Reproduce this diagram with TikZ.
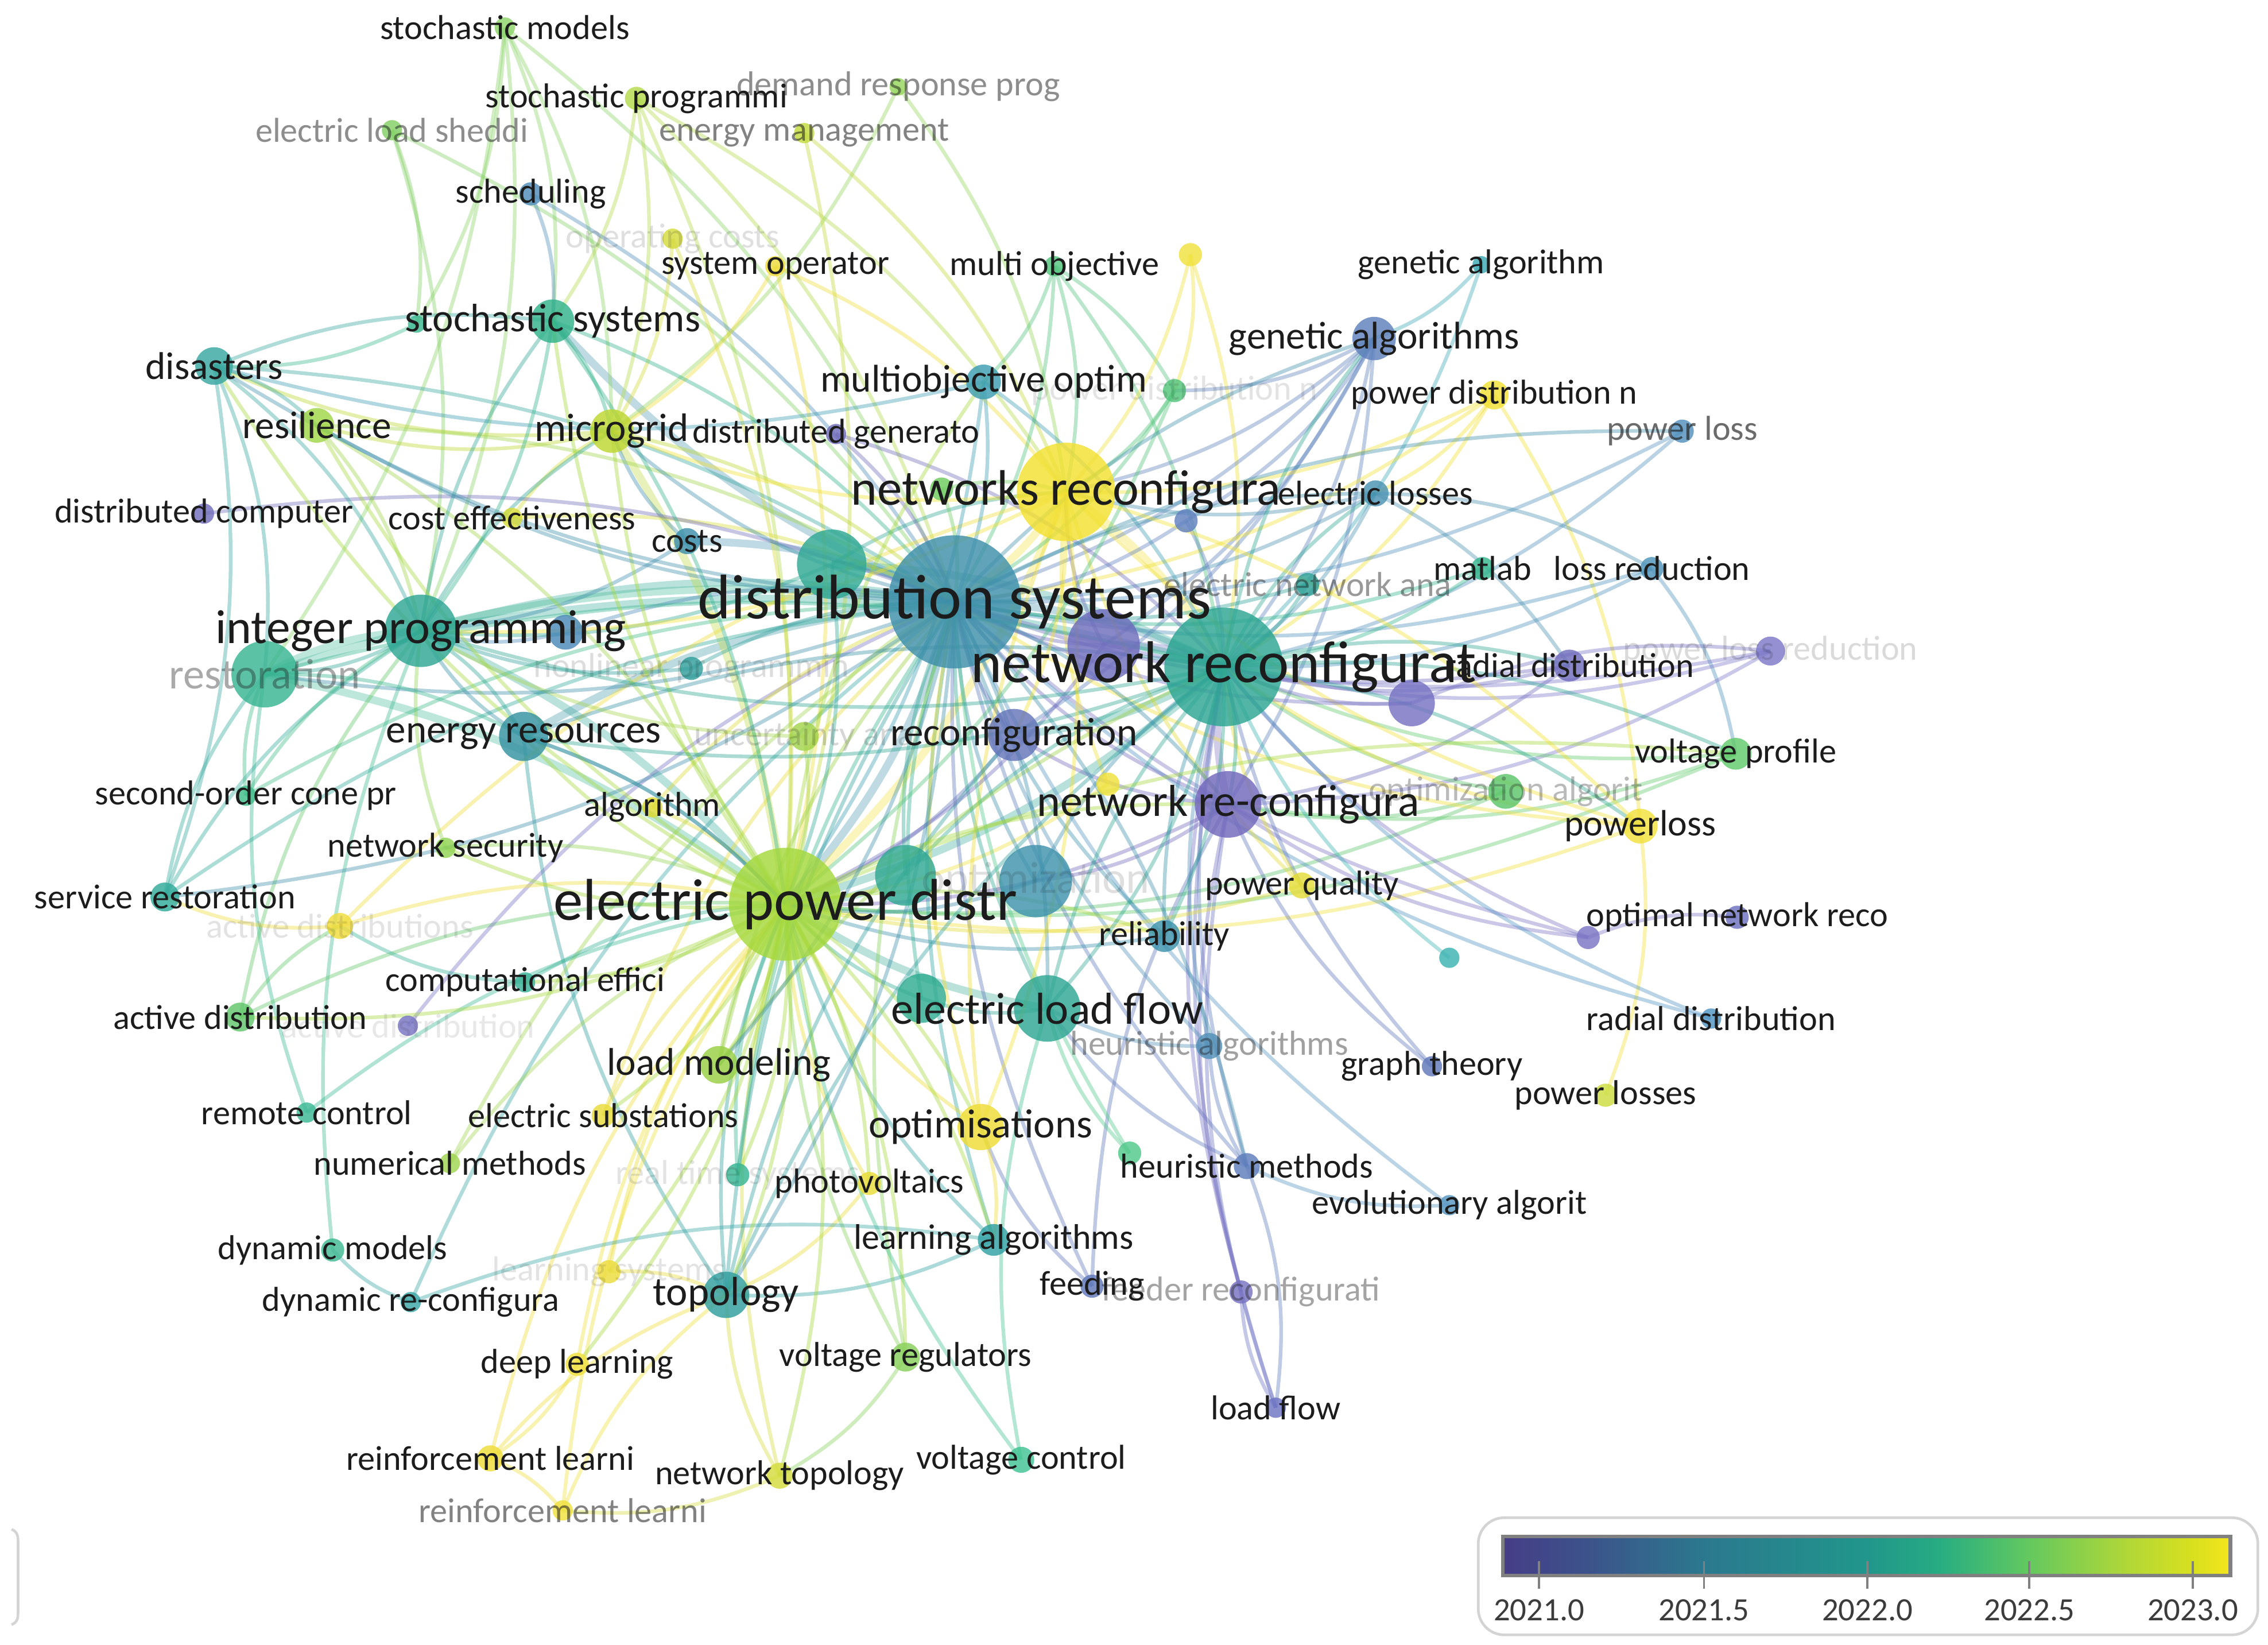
\documentclass[tikz,border=0pt]{standalone}
\usepackage{fontspec}
\setmainfont{Carlito}
\pgfdeclarelayer{edgelayer}
\pgfsetlayers{edgelayer,main}
\definecolor{vA}{HTML}{463D87}
\definecolor{vB}{HTML}{3E4F8A}
\definecolor{vC}{HTML}{2B798E}
\definecolor{vD}{HTML}{21968B}
\definecolor{vE}{HTML}{27AC82}
\definecolor{vF}{HTML}{62C860}
\definecolor{vG}{HTML}{ADD63A}
\definecolor{vH}{HTML}{D9E01E}
\definecolor{vI}{HTML}{F3E51E}
\pgfdeclarehorizontalshading{viridisbar}{100bp}{color(0bp)=(vA); color(25bp)=(vA); color(30bp)=(vB); color(39bp)=(vC); color(50bp)=(vD); color(55bp)=(vE); color(61bp)=(vF); color(67.5bp)=(vG); color(72.5bp)=(vH); color(75bp)=(vI); color(100bp)=(vI)}
\definecolor{tk}{HTML}{1C1C1C}
\definecolor{legbox}{HTML}{D4D4D4}
\definecolor{barline}{HTML}{808080}
\definecolor{ticklab}{HTML}{3C3C3C}
\tikzset{
  nd/.style={circle,inner sep=0pt,draw=none,fill opacity=0.82},
  lab/.style={inner sep=0pt,anchor=center},
  edge/.style={line width=1.8pt,draw opacity=0.4},
  thickedge/.style={line width=3.8pt,draw opacity=0.33},
  tickmark/.style={draw=barline,line width=1pt},
  ticktext/.style={text=ticklab,font=\fontsize{16}{16}\selectfont,inner sep=0pt}
}
% label opacity levels: 1 = black, .55 = gray, .4 = light gray, .14 = faint
\newcommand\NN[5]{\definecolor{c#1}{HTML}{#5}\node[nd,fill=c#1,minimum size=#4*0.05cm] (#1) at (#2,#3) {};}
\newcommand\LL[4]{\node[lab,text=tk,text opacity=#4,font=\fontsize{#1}{#1}\selectfont] (l#2) at (#2) {#3};}
\begin{document}
\begin{tikzpicture}[x=0.025cm,y=-0.025cm]
\useasboundingbox (0,0) rectangle (1568,1137);
% ---------------- nodes ----------------
\NN{sm}{349}{19}{7}{8CD46A}
\NN{sp}{440}{68}{8}{B3DA4C}
\NN{dr}{621}{60}{6}{95D55C}
\NN{els}{271}{90}{7}{82D065}
\NN{em}{556}{92}{7}{C3DA3C}
\NN{sch}{367}{134}{8}{4E8CB8}
\NN{oc}{465}{165}{7}{D4DA3A}
\NN{so}{536}{184}{7}{EDDC3A}
\NN{mo}{729}{184}{7}{52C47C}
\NN{y1}{823}{176}{8}{F0E23E}
\NN{ga1}{1024}{183}{6}{3BA8B4}
\NN{st2}{288}{224}{6}{3DB890}
\NN{ss}{382}{222}{15}{31B28A}
\NN{dis}{148}{253}{13}{38A6A0}
\NN{res}{219}{294}{12}{A0D548}
\NN{mg}{423}{298}{15}{BDD630}
\NN{dg}{578}{300}{7}{6F6BB9}
\NN{moo}{680}{264}{12}{3C9EB2}
\NN{g1}{812}{270}{8}{52C47A}
\NN{ga}{950}{234}{15}{5D80BC}
\NN{pdn}{1033}{273}{10}{F0E034}
\NN{pl}{1163}{298}{8}{5290BC}
\NN{g2}{651}{338}{8}{6ECB5E}
\NN{el}{951}{341}{9}{4A92B2}
\NN{b2}{820}{360}{8}{6080C0}
\NN{dc}{141}{355}{7}{716DBC}
\NN{cef}{354}{358}{7}{D8DC38}
\NN{costs}{475}{374}{9}{3D8FAC}
\NN{t1}{575}{390}{24}{30A894}
\NN{ena}{904}{404}{8}{2EA096}
\NN{mat}{1025}{393}{8}{33B48C}
\NN{lr}{1142}{393}{8}{4E92BA}
\NN{ip}{291}{436}{25}{2EA694}
\NN{b1}{391}{437}{12}{4B89B8}
\NN{rest}{183}{466}{23}{38B592}
\NN{nlp}{478}{462}{8}{2F9E9A}
\NN{pb}{763}{446}{25}{6E6CBC}
\NN{p4}{976}{486}{16}{7672C2}
\NN{rd1}{1085}{460}{11}{706CBC}
\NN{plr}{1224}{450}{10}{7C78C8}
\NN{er}{362}{509}{17}{3592A2}
\NN{ua}{556}{509}{10}{A4D44C}
\NN{rec}{701}{508}{18}{6475B8}
\NN{vp}{1200}{521}{11}{60CA6C}
\NN{oa}{1041}{547}{12}{5CC66A}
\NN{y2}{766}{542}{8}{EEE03A}
\NN{pwl}{1134}{571}{12}{F2E03A}
\NN{soc}{170}{550}{7}{40BC88}
\NN{alg}{451}{558}{7}{DDDA34}
\NN{ns}{308}{586}{7}{90D452}
\NN{t2}{626}{605}{21}{30A892}
\NN{optz}{716}{609}{25}{3E92AC}
\NN{pq}{900}{612}{9}{E4DC38}
\NN{sr}{114}{620}{10}{30AA9A}
\NN{ads}{235}{640}{9}{F0DC3A}
\NN{rel}{805}{647}{11}{3C92AC}
\NN{onr}{1201}{634}{8}{6C70C0}
\NN{p2}{1098}{648}{8}{7A74C4}
\NN{t4}{1002}{662}{7}{3CB2B2}
\NN{ce}{363}{679}{7}{38B298}
\NN{ad}{166}{703}{10}{60C66A}
\NN{p3}{282}{709}{7}{7874C4}
\NN{t3}{637}{690}{17}{30AC90}
\NN{elf}{724}{697}{23}{2EA692}
\NN{rd2}{1183}{704}{7}{5094C2}
\NN{ha}{836}{723}{9}{5290B8}
\NN{gt}{990}{737}{7}{6078BA}
\NN{lm}{497}{736}{13}{98D042}
\NN{pls}{1110}{757}{8}{CCDC40}
\NN{rc}{212}{769}{7}{3AB894}
\NN{es}{417}{771}{8}{E8DC3A}
\NN{opm}{678}{779}{16}{EEDC34}
\NN{g3}{781}{797}{8}{50C88A}
\NN{hm}{862}{806}{9}{5E7CBC}
\NN{nm}{311}{804}{7}{A0D450}
\NN{rts}{510}{812}{8}{36B492}
\NN{pv}{601}{818}{8}{E8DC38}
\NN{ea}{1002}{833}{7}{5696C0}
\NN{la}{687}{857}{11}{30A0A2}
\NN{dm}{230}{864}{8}{40BA92}
\NN{ls}{421}{879}{8}{ECDC3A}
\NN{topo}{502}{895}{16}{309E9E}
\NN{fd}{755}{889}{8}{6078BA}
\NN{fr}{858}{893}{8}{7872C2}
\NN{drc}{284}{900}{7}{3AA6A6}
\NN{dl}{399}{943}{8}{F0E03E}
\NN{vr}{626}{938}{10}{88D05A}
\NN{lf}{882}{973}{7}{6E74C2}
\NN{rl}{339}{1008}{9}{EEDC38}
\NN{nt}{539}{1020}{9}{D4DC3C}
\NN{vc}{706}{1009}{9}{40C292}
\NN{rl2}{389}{1044}{7}{F0E03E}
\NN{nrc}{849}{556}{23}{7268BC}
\NN{nwr}{737}{340}{34}{F2E030}
\NN{epd}{543}{625}{39}{A4D83C}
\NN{ds}{660}{416}{46}{3E8FAA}
\NN{nr}{846}{461}{41}{2CA592}
% ---------------- edges ----------------
\begin{pgfonlayer}{edgelayer}
\foreach \a/\b in {ds/nr,ds/epd,nr/epd,ip/ds,rest/ds,nwr/ds,nwr/nr,nwr/epd,nrc/nr,t1/ds,pb/nr,t2/epd,elf/epd,ip/epd,rest/ip,er/ds,mg/epd,costs/ds,ip/nr,rest/epd,t1/nr,ds/ss,nr/rec}
  \draw[thickedge,draw=c\a] (\a.center) to[bend left=12] (\b.center);
\foreach \a/\b in {sm/ss,sm/ip,sm/mg,sm/st2,sm/rest,sm/ds,
 sp/mg,sp/ss,sp/nwr,sp/epd,sp/ds,dr/nwr,dr/mg,els/st2,els/ds,els/ip,
 em/nwr,em/epd,sch/ds,sch/ss,oc/mg,oc/epd,so/nwr,so/epd,so/mg,
 mo/moo,mo/nwr,mo/ds,mo/nr,mo/g1,y1/nwr,y1/g1,y1/nr,ga1/ga,ga1/nr,
 ga/nwr,ga/ds,ga/nr,ga/nrc,ga/rec,ga/b2,ga/g1,ga/pb,
 pdn/nwr,pdn/nr,pdn/ds,pdn/pwl,pdn/el,pl/ds,pl/nr,
 el/ds,el/nr,el/nwr,el/lr,el/rd1,lr/nr,lr/vp,lr/ds,mat/nr,mat/ds,ena/ds,ena/nr,
 rd1/nr,rd1/ds,rd1/nrc,plr/nr,plr/ds,plr/nrc,vp/nr,vp/epd,vp/nrc,
 oa/nrc,oa/nr,oa/epd,pwl/nr,pwl/nwr,pwl/pls,pwl/epd,pwl/ds,
 p2/onr,p2/nrc,p2/nr,p2/ds,t4/nr,rd2/nr,rd2/ds,gt/nrc,gt/nr,ea/ds,ea/hm,
 hm/ds,hm/nr,hm/ha,hm/elf,hm/lf,lf/nrc,lf/nr,lf/fr,fr/nr,fr/nrc,
 fd/nrc,fd/ds,fd/opm,ha/elf,ha/ds,ha/nr,rel/ds,rel/nr,rel/epd,
 pq/epd,pq/nr,pq/nwr,nrc/ds,nrc/epd,nrc/rec,nrc/optz,y2/epd,y2/nwr,
 rec/ds,rec/epd,optz/ds,optz/nr,optz/epd,t2/ds,t2/nr,
 elf/ds,elf/nr,elf/t3,t3/epd,t3/ds,la/epd,la/ds,la/topo,
 opm/epd,opm/ds,opm/nwr,opm/la,pv/epd,pv/topo,vr/epd,vr/ds,vr/nt,vc/epd,vc/elf,
 nt/epd,nt/topo,nt/rl2,topo/epd,topo/ds,topo/nr,topo/er,topo/rec,ls/epd,ls/topo,
 dl/epd,dl/rl,rl/epd,rl/rl2,rl/topo,rl2/topo,rl2/epd,drc/ds,drc/dm,drc/la,dm/ip,
 rts/epd,rts/ds,nm/epd,nm/ds,es/epd,es/ds,rc/epd,rc/rest,lm/epd,lm/ds,lm/nr,
 ad/epd,ad/ip,ad/ads,p3/ds,ce/epd,ce/ads,sr/rest,sr/ip,sr/ds,ads/epd,ads/sr,ads/nwr,
 ns/epd,ns/ip,alg/epd,alg/ds,soc/rest,soc/ds,soc/ip,er/ip,er/epd,er/nr,
 ua/ds,ua/epd,ua/ip,nlp/ds,nlp/ip,b1/ds,b1/ip,costs/ip,costs/mg,cef/ds,cef/mg,dc/ds,
 t1/ip,t1/epd,t1/nwr,mg/ds,mg/res,mg/dis,dg/ds,dg/nr,moo/ds,moo/nr,moo/dis,moo/epd,
 g1/nwr,g1/ds,g1/epd,res/ds,res/ip,res/epd,dis/ss,dis/ds,dis/ip,dis/rest,dis/res,dis/sr,
 ss/ds,ss/ip,ss/epd,ss/mg,st2/dis,pb/ds,pb/nwr,pb/epd,p4/nr,p4/plr,p4/ds,g2/nwr,g2/ds,
 b2/nr,b2/ds,g3/elf,g3/ds,ip/ss,rest/nr,epd/es,epd/lm,
 epd/topo,epd/vr,epd/la,epd/opm,epd/pv,epd/rts,epd/ad,epd/ss,epd/mg,epd/res,epd/dis,
 epd/moo,epd/nrc,epd/rel,epd/nt,epd/dl,epd/ls,epd/ce,epd/ns,epd/vp,epd/er,
 ds/rest,ds/dis,ds/ga,ds/el,ds/pl,ds/nrc,ds/elf,ds/hm,ds/topo,ds/mg,ds/res,ds/sr,ds/lm,
 nr/nrc,nr/ip,nr/er,nr/rel,nr/elf,nr/vp,nr/pwl,nr/rd1,nr/ga,nr/el,
 nwr/mg,nwr/ip,nwr/rec,nwr/pwl,nwr/opm,ip/er,ip/mg,ip/rest,rest/er,er/epd}
  \draw[edge,draw=c\a] (\a.center) to[bend left=14] (\b.center);
\end{pgfonlayer}
% ---------------- labels ----------------
\LL{17}{oc}{operating costs}{0.14}
\LL{17}{g1}{power distribution n}{0.12}
\LL{17}{nlp}{nonlinear programmin}{0.15}
\LL{17}{plr}{power loss reduction}{0.16}
\LL{17}{ua}{uncertainty ana}{0.18}
\LL{22}{optz}{optimization}{0.14}
\LL{17}{ads}{active distributions}{0.12}
\LL{17}{p3}{active distribution}{0.1}
\LL{17}{rts}{real time systems}{0.12}
\LL{17}{ls}{learning systems}{0.12}
\LL{17}{dr}{demand response prog}{0.5}
\LL{17}{els}{electric load sheddi}{0.5}
\LL{17}{em}{energy management}{0.55}
\LL{17}{ena}{electric network ana}{0.45}
\LL{17}{oa}{optimization algorit}{0.3}
\LL{17}{ha}{heuristic algorithms}{0.42}
\LL{17}{fr}{feeder reconfigurati}{0.4}
\LL{17}{rl2}{reinforcement learni}{0.55}
\LL{21}{rest}{restoration}{0.38}
\LL{17}{pl}{power loss}{0.65}
\LL{17}{sm}{stochastic models}{1}
\LL{17}{sp}{stochastic programmi}{1}
\LL{17}{sch}{scheduling}{1}
\LL{17}{so}{system operator}{1}
\LL{17}{mo}{multi objective}{1}
\LL{17}{ga1}{genetic algorithm}{1}
\LL{19.5}{ss}{stochastic systems}{1}
\LL{19}{dis}{disasters}{1}
\LL{19}{res}{resilience}{1}
\LL{19.5}{mg}{microgrid}{1}
\LL{17}{dg}{distributed generato}{1}
\LL{19}{moo}{multiobjective optim}{1}
\LL{19}{ga}{genetic algorithms}{1}
\LL{17}{pdn}{power distribution n}{1}
\LL{17}{el}{electric losses}{1}
\LL{17}{dc}{distributed computer}{1}
\LL{17}{cef}{cost effectiveness}{1}
\LL{17}{costs}{costs}{1}
\LL{17}{mat}{matlab}{1}
\LL{17}{lr}{loss reduction}{1}
\LL{23.5}{ip}{integer programming}{1}
\LL{17}{rd1}{radial distribution}{1}
\LL{19.5}{er}{energy resources}{1}
\LL{19.5}{rec}{reconfiguration}{1}
\LL{17}{vp}{voltage profile}{1}
\LL{18}{pwl}{powerloss}{1}
\LL{17}{soc}{second-order cone pr}{1}
\LL{17}{alg}{algorithm}{1}
\LL{17}{ns}{network security}{1}
\LL{17}{pq}{power quality}{1}
\LL{17}{sr}{service restoration}{1}
\LL{17}{rel}{reliability}{1}
\LL{17}{onr}{optimal network reco}{1}
\LL{17}{ce}{computational effici}{1}
\LL{17}{ad}{active distribution}{1}
\LL{17}{rd2}{radial distribution}{1}
\LL{17}{gt}{graph theory}{1}
\LL{19}{lm}{load modeling}{1}
\LL{17}{pls}{power losses}{1}
\LL{17}{rc}{remote control}{1}
\LL{17}{es}{electric substations}{1}
\LL{20}{opm}{optimisations}{1}
\LL{17}{hm}{heuristic methods}{1}
\LL{17}{nm}{numerical methods}{1}
\LL{17}{pv}{photovoltaics}{1}
\LL{17}{ea}{evolutionary algorit}{1}
\LL{17.5}{la}{learning algorithms}{1}
\LL{17}{dm}{dynamic models}{1}
\LL{20}{topo}{topology}{1}
\LL{17}{fd}{feeding}{1}
\LL{17}{drc}{dynamic re-configura}{1}
\LL{17}{dl}{deep learning}{1}
\LL{17}{vr}{voltage regulators}{1}
\LL{17}{lf}{load flow}{1}
\LL{17}{rl}{reinforcement learni}{1}
\LL{17}{nt}{network topology}{1}
\LL{17}{vc}{voltage control}{1}
\LL{22}{elf}{electric load flow}{1}
\LL{22}{nrc}{network re-configura}{1}
\LL{24.5}{nwr}{networks reconfigura}{1}
\LL{29}{epd}{electric power distr}{1}
\LL{31}{ds}{distribution systems}{1}
\LL{29}{nr}{network reconfigurat}{1}
% ---------------- legend ----------------
\draw[draw=legbox,line width=1.3pt,rounded corners=0.45cm] (1022,1049) rectangle (1561,1130);
\draw[draw=legbox,line width=1.3pt] (8,1057) .. controls (12.5,1059) and (12.5,1062) .. (12.5,1067) -- (12.5,1113) .. controls (12.5,1118) and (12.5,1121) .. (8,1123);
\shade[shading=viridisbar] (1039,1062) rectangle (1542,1089);
\draw[draw=barline,line width=1.8pt] (1039,1062) rectangle (1542,1089);
\foreach \x/\t in {1064/2021.0,1178/2021.5,1291/2022.0,1403/2022.5,1516/2023.0}{
  \draw[tickmark] (\x,1079) -- (\x,1098);
  \node[ticktext] (tick\x) at (\x,1113) {\t};
}
\end{tikzpicture}
\end{document}
